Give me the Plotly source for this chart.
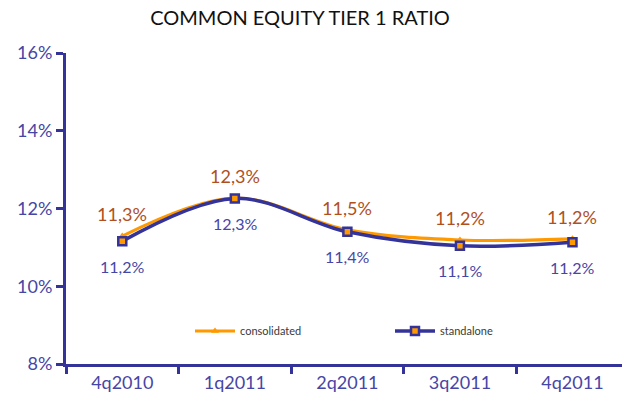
import plotly.graph_objects as go

categories = ["4q2010", "1q2011", "2q2011", "3q2011", "4q2011"]
consolidated = [11.29, 12.27, 11.45, 11.19, 11.22]
standalone = [11.16, 12.26, 11.40, 11.04, 11.13]
consolidated_labels = ["11,3%", "12,3%", "11,5%", "11,2%", "11,2%"]
standalone_labels = ["11,2%", "12,3%", "11,4%", "11,1%", "11,2%"]
y_ticks = [8, 10, 12, 14, 16]
y_tick_labels = ["8%", "10%", "12%", "14%", "16%"]

NAVY = "#333399"
ORANGE = "#FF9900"
BROWN = "#B0501E"
LABEL_NAVY = "#4646A6"
FONT = "Lato"

fig = go.Figure()
fig.add_trace(go.Scatter(
    x=categories, y=consolidated, name="consolidated", mode="lines+markers",
    line=dict(color=ORANGE, width=3.2, shape="spline", smoothing=1.0),
    marker=dict(symbol="triangle-up", size=7, color=ORANGE),
    legend="legend",
))
fig.add_trace(go.Scatter(
    x=categories, y=standalone, name="standalone", mode="lines+markers",
    line=dict(color=NAVY, width=3.5, shape="spline", smoothing=1.0),
    marker=dict(symbol="square", size=8, color=ORANGE, line=dict(color=NAVY, width=2.5)),
    legend="legend2",
))

for c, v, t in zip(categories, consolidated, consolidated_labels):
    fig.add_annotation(x=c, y=v, text=t, showarrow=False, yshift=22,
                       font=dict(family=FONT, size=18, color=BROWN))
for c, v, t in zip(categories, standalone, standalone_labels):
    fig.add_annotation(x=c, y=v, text=t, showarrow=False, yshift=-25,
                       font=dict(family=FONT, size=16, color=LABEL_NAVY))

legend_common = dict(orientation="h", yanchor="middle", xanchor="left",
                     itemwidth=40, font=dict(family=FONT, size=11, color="#3a3a3a"),
                     bgcolor="rgba(0,0,0,0)", xref="container", yref="container")

fig.update_layout(
    width=622, height=403,
    margin=dict(l=66, r=0, t=53, b=39, autoexpand=False),
    paper_bgcolor="white", plot_bgcolor="white",
    title=dict(text="COMMON EQUITY TIER 1 RATIO", x=300 / 622, xanchor="center",
               y=1 - 18 / 403, yanchor="middle",
               font=dict(family=FONT, size=20, color="#111111")),
    showlegend=True,
    legend=dict(x=190 / 622, y=1 - 331 / 403, **legend_common),
    legend2=dict(x=390 / 622, y=1 - 331 / 403, **legend_common),
    xaxis=dict(type="category", range=[-0.5, 4.44], showgrid=False, automargin=False,
               showline=True, linecolor=NAVY, linewidth=3,
               ticks="outside", tickson="boundaries", ticklen=7, tickwidth=3, tickcolor=NAVY,
               tickfont=dict(family=FONT, size=18, color=LABEL_NAVY)),
    yaxis=dict(range=[8, 16], tickvals=y_ticks, ticktext=y_tick_labels, showgrid=False,
               automargin=False,
               zeroline=False, showline=True, linecolor=NAVY, linewidth=3,
               ticks="outside", ticklen=7, tickwidth=3, tickcolor=NAVY,
               tickfont=dict(family=FONT, size=18, color=LABEL_NAVY)),
)

fig.write_html("out.html", config={"displayModeBar": False},
               post_script="document.body.style.margin='0';")
